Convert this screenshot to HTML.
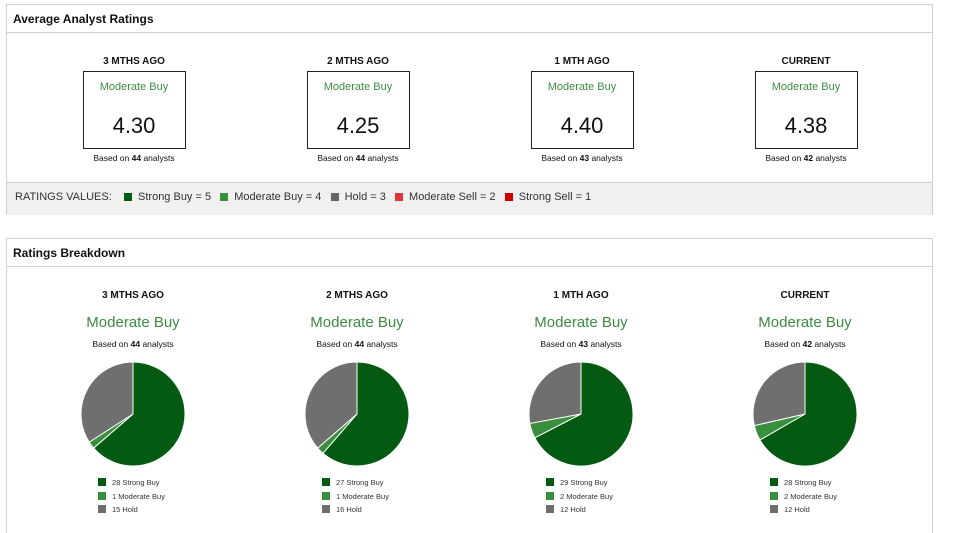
<!DOCTYPE html>
<html style="overflow:hidden;width:957px;height:533px"><head><meta charset="utf-8"><style>
body{margin:0;width:957px;height:533px;overflow:hidden;background:#fff;font-family:"Liberation Sans",sans-serif;color:#111;position:relative}
.panel{position:absolute;left:6px;width:927px;border:1px solid #d0d0d0;box-sizing:border-box}
.hdr{height:27px;border-bottom:1px solid #d0d0d0;font-weight:bold;font-size:12px;line-height:28px;padding-left:6px}
.col{position:absolute;width:200px;text-align:center}
.t{font-weight:bold;font-size:10px}
.box{width:103px;height:78px;border:1px solid #222;box-sizing:border-box;margin:4px auto 0}
.g{color:#3c8c42}
.small{font-size:8.5px}
.leg{position:absolute;font-size:7.5px;color:#333}
.sw{display:inline-block;width:8px;height:8px;margin-right:6px;vertical-align:-1px}
</style></head><body>
<div class="panel" style="top:4px;height:211px">
 <div class="hdr">Average Analyst Ratings</div>
 <div id="avg"></div>
 <div style="position:absolute;left:0;right:0;top:177px;height:32px;background:#f0f0f0;border-top:1px solid #d0d0d0;font-size:11px;line-height:28px;padding-left:8px;color:#333">
  RATINGS VALUES:&nbsp;&nbsp;&nbsp;
  <span class="sw" style="background:#055a12"></span>Strong Buy = 5&nbsp;&nbsp;
  <span class="sw" style="background:#3a8f3e"></span>Moderate Buy = 4&nbsp;&nbsp;
  <span class="sw" style="background:#666"></span>Hold = 3&nbsp;&nbsp;
  <span class="sw" style="background:#d9373b"></span>Moderate Sell = 2&nbsp;&nbsp;
  <span class="sw" style="background:#c00"></span>Strong Sell = 1
 </div>
</div>
<div class="panel" style="top:238px;height:300px">
 <div class="hdr">Ratings Breakdown</div>
</div>
<svg id="pies" width="957" height="533" style="position:absolute;left:0;top:0"></svg>
<div id="brk"></div>
<script>
const periods=["3 MTHS AGO","2 MTHS AGO","1 MTH AGO","CURRENT"];
const scores=["4.30","4.25","4.40","4.38"];
const analysts=[44,44,43,42];
const strongBuy=[28,27,29,28];
const moderateBuy=[1,1,2,2];
const hold=[15,16,12,12];
const centers=[133,357,581,805];
const colors=["#055a12","#3a8f3e","#6f6f6f"];
const avg=document.getElementById('avg');
const brk=document.getElementById('brk');
const svg=document.getElementById('pies');
const NS="http://www.w3.org/2000/svg";
periods.forEach((p,i)=>{
 const c=document.createElement('div');c.className='col';
 
 
 c.style.left=(centers[i]-6-100)+'px';c.style.top='51px';
 c.innerHTML=`<div class="t">${p}</div><div class="box"><div class="g" style="font-size:11px;margin-top:9px">Moderate Buy</div><div style="font-size:22px;margin-top:20px">${scores[i]}</div></div><div class="small" style="margin-top:4px">Based on <b>${analysts[i]}</b> analysts</div>`;
 avg.appendChild(c);
 const d=document.createElement('div');d.className='col';
 
 
 d.style.left=(centers[i]-100)+'px';d.style.top='290px';
 d.innerHTML=`<div class="t">${p}</div><div class="g" style="font-size:15px;margin-top:13px">Moderate Buy</div><div class="small" style="margin-top:8px">Based on <b>${analysts[i]}</b> analysts</div>`;
 brk.appendChild(d);
 const vals=[strongBuy[i],moderateBuy[i],hold[i]];
 const tot=vals.reduce((a,b)=>a+b,0);
 let a0=0;const cx=centers[i],cy=414,r=52;
 vals.forEach((v,k)=>{
  const a1=a0+v/tot*2*Math.PI;
  const x0=cx+r*Math.sin(a0),y0=cy-r*Math.cos(a0),x1=cx+r*Math.sin(a1),y1=cy-r*Math.cos(a1);
  const path=document.createElementNS(NS,'path');
  path.setAttribute('d',`M${cx},${cy}L${x0},${y0}A${r},${r} 0 ${a1-a0>Math.PI?1:0} 1 ${x1},${y1}Z`);
  path.setAttribute('fill',colors[k]);path.setAttribute('stroke','#fff');path.setAttribute('stroke-width','1');
  
  
  svg.appendChild(path);a0=a1;
 });
 const labels=[" Strong Buy"," Moderate Buy"," Hold"];
 vals.forEach((v,k)=>{
  const l=document.createElement('div');l.className='leg';
  
  
  l.style.left=(cx-35)+'px';l.style.top=(478+k*13.5)+'px';
  l.innerHTML=`<span class="sw" style="background:${colors[k]}"></span>${v}${labels[k]}`;
  brk.appendChild(l);
 });
});
</script>
</body></html>
